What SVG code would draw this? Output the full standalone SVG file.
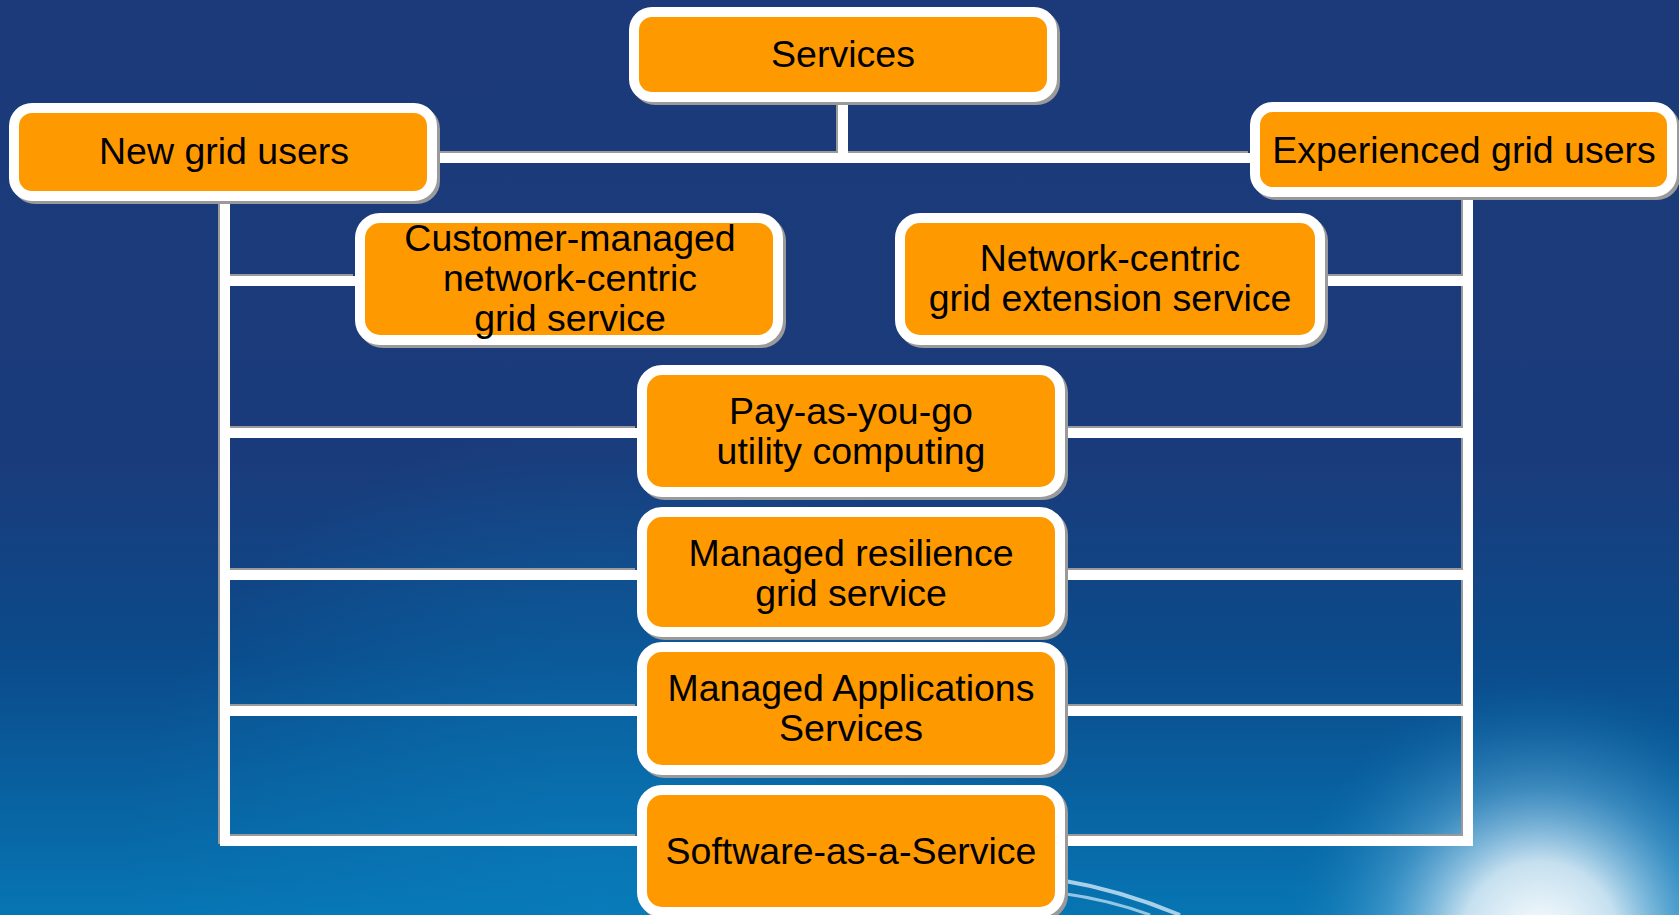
<svg xmlns="http://www.w3.org/2000/svg" width="1679" height="915" viewBox="0 0 1679 915">
<defs>
<linearGradient id="bg" x1="0" y1="0" x2="0" y2="1">
<stop offset="0" stop-color="#1c3a7a"/>
<stop offset="0.5" stop-color="#1a3b7b"/>
<stop offset="0.72" stop-color="#0b4b8b"/>
<stop offset="1" stop-color="#0775b3"/>
</linearGradient>
<radialGradient id="glow" cx="1540" cy="940" r="260" gradientUnits="userSpaceOnUse">
<stop offset="0" stop-color="#ffffff" stop-opacity="1"/>
<stop offset="0.3" stop-color="#e8f4fb" stop-opacity="0.85"/>
<stop offset="0.6" stop-color="#7fc0e6" stop-opacity="0.4"/>
<stop offset="1" stop-color="#0775b3" stop-opacity="0"/>
</radialGradient>
<radialGradient id="glow2" cx="600" cy="900" r="480" gradientUnits="userSpaceOnUse">
<stop offset="0" stop-color="#0a80bf" stop-opacity="0.55"/>
<stop offset="1" stop-color="#0a80bf" stop-opacity="0"/>
</radialGradient>
</defs>
<style>
.box{fill:#ff9900;stroke:#ffffff;stroke-width:10}
.shadow{fill:none;stroke:#9a9a9a;stroke-width:10}
.lbl{font-family:"Liberation Sans",Arial,sans-serif;font-size:37.5px;fill:#000000;text-anchor:middle}
.ln{stroke:#ffffff;stroke-width:10;fill:none}
.lns{stroke:#9a9a9a;stroke-width:10;fill:none}
</style>
<rect x="0" y="0" width="1679" height="915" fill="url(#bg)"/>
<rect x="0" y="0" width="1679" height="915" fill="url(#glow2)"/>
<rect x="1200" y="640" width="479" height="275" fill="url(#glow)"/>
<path d="M1060,880 Q1120,890 1180,915" stroke="#cfe9f8" stroke-width="4" fill="none" opacity="0.8"/>
<path d="M1060,893 Q1110,900 1150,915" stroke="#cfe9f8" stroke-width="3" fill="none" opacity="0.7"/>

<g id="connectors">
<g transform="translate(-2,-2)">
<path class="lns" d="M843,102 V158 M437,158 H1250 M225,201 V846 M1468,197 V846 M225,281 H355 M1325,281 H1468 M220,433 H637 M220,575 H637 M220,711 H637 M220,841 H637 M1065,433 H1473 M1065,575 H1473 M1065,711 H1473 M1065,841 H1473"/>
</g>
<path class="ln" d="M843,102 V158 M437,158 H1250 M225,201 V846 M1468,197 V846 M225,281 H355 M1325,281 H1468 M220,433 H637 M220,575 H637 M220,711 H637 M220,841 H637 M1065,433 H1473 M1065,575 H1473 M1065,711 H1473 M1065,841 H1473"/>
</g>

<g id="services">
<rect class="shadow" x="637" y="15" width="418" height="85" rx="18"/>
<rect class="box" x="634" y="12" width="418" height="85" rx="18"/>
<text class="lbl" x="843" y="67">Services</text>
</g>
<g id="new-grid-users">
<rect class="shadow" x="17" y="111" width="418" height="88" rx="18"/>
<rect class="box" x="14" y="108" width="418" height="88" rx="18"/>
<text class="lbl" x="224" y="164">New grid users</text>
</g>
<g id="experienced-grid-users">
<rect class="shadow" x="1258" y="110" width="417" height="85" rx="18"/>
<rect class="box" x="1255" y="107" width="417" height="85" rx="18"/>
<text class="lbl" x="1464" y="163">Experienced grid users</text>
</g>
<g id="customer-managed">
<rect class="shadow" x="363" y="221" width="418" height="122" rx="20"/>
<rect class="box" x="360" y="218" width="418" height="122" rx="20"/>
<text class="lbl" x="570" y="251">Customer-managed</text>
<text class="lbl" x="570" y="291">network-centric</text>
<text class="lbl" x="570" y="331">grid service</text>
</g>
<g id="network-centric">
<rect class="shadow" x="903" y="221" width="420" height="122" rx="20"/>
<rect class="box" x="900" y="218" width="420" height="122" rx="20"/>
<text class="lbl" x="1110" y="271">Network-centric</text>
<text class="lbl" x="1110" y="311">grid extension service</text>
</g>
<g id="pay-as-you-go">
<rect class="shadow" x="645" y="373" width="418" height="122" rx="20"/>
<rect class="box" x="642" y="370" width="418" height="122" rx="20"/>
<text class="lbl" x="851" y="424">Pay-as-you-go</text>
<text class="lbl" x="851" y="464">utility computing</text>
</g>
<g id="managed-resilience">
<rect class="shadow" x="645" y="515" width="418" height="120" rx="20"/>
<rect class="box" x="642" y="512" width="418" height="120" rx="20"/>
<text class="lbl" x="851" y="566">Managed resilience</text>
<text class="lbl" x="851" y="606">grid service</text>
</g>
<g id="managed-applications">
<rect class="shadow" x="645" y="650" width="418" height="123" rx="20"/>
<rect class="box" x="642" y="647" width="418" height="123" rx="20"/>
<text class="lbl" x="851" y="701">Managed Applications</text>
<text class="lbl" x="851" y="741">Services</text>
</g>
<g id="software-as-a-service">
<rect class="shadow" x="645" y="793" width="418" height="122" rx="20"/>
<rect class="box" x="642" y="790" width="418" height="122" rx="20"/>
<text class="lbl" x="851" y="864">Software-as-a-Service</text>
</g>
</svg>
